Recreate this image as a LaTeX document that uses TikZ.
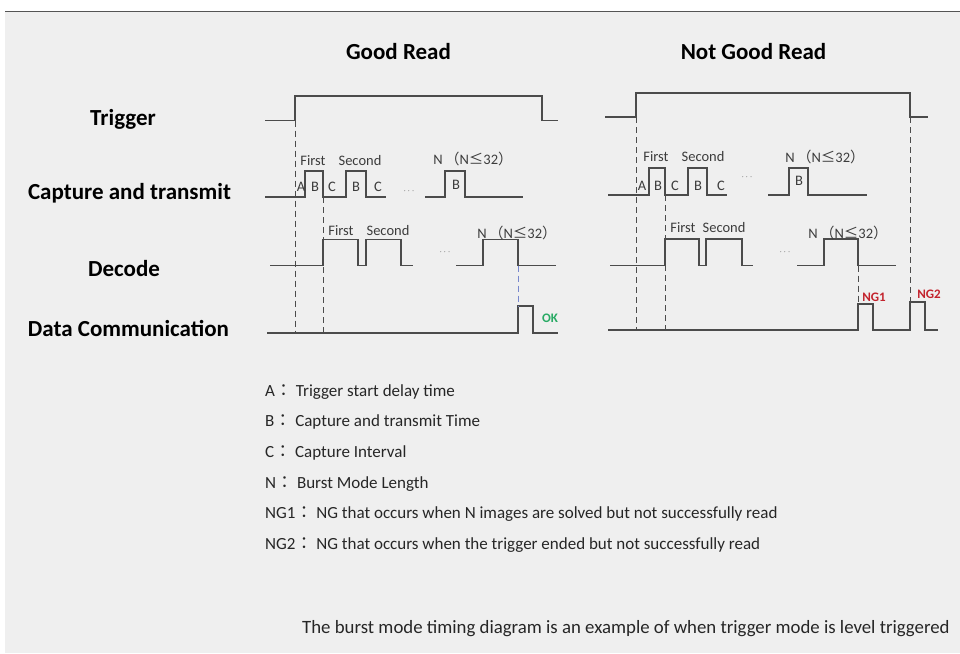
\documentclass[tikz,border=0pt]{standalone}
\usepackage{fontspec}
\setmainfont{Carlito}
\newfontfamily\cjk{Noto Sans CJK TC}
\usepackage{tikz}
\definecolor{pagebg}{RGB}{239,239,239}
\definecolor{rulegray}{RGB}{85,85,85}
\definecolor{wavegray}{RGB}{75,75,75}
\definecolor{textgray}{RGB}{60,60,60}
\definecolor{okgreen}{RGB}{40,170,100}
\definecolor{ngred}{RGB}{195,35,45}
\definecolor{guideblue}{RGB}{120,135,205}
\usetikzlibrary{positioning}
\newcommand{\fw}[1]{{\cjk #1}}
\newcommand{\Nmax}{N\,\fw{（}N\fw{≤}32\fw{）}}

\begin{document}
\begin{tikzpicture}[
    x=1pt, y=-1pt,
    signal/.style={draw=wavegray, line width=1.3pt},
    guide/.style={draw=wavegray, line width=1pt, dash pattern=on 6pt off 4pt},
    rowlabel/.style={font=\fontsize{23}{26}\selectfont\bfseries, text=black, inner sep=0},
    heading/.style={font=\fontsize{23}{26}\selectfont\bfseries, text=black, inner sep=0},
    tag/.style={font=\fontsize{14.5}{16}\selectfont, text=textgray, inner sep=0},
    dots/.style={font=\fontsize{9}{10}\selectfont, text=textgray, inner sep=0},
    result/.style={font=\fontsize{13}{15}\selectfont\bfseries, inner sep=0},
    legend/.style={anchor=west, font=\fontsize{17}{19}\selectfont, text=black!85, inner sep=0}
]
    \useasboundingbox (0,0) rectangle (960,653);
    % Page background and top rule
    \fill[white] (0,0) rectangle (960,653);
    \fill[pagebg] (5,12) rectangle (960,653);
    \draw[rulegray, line width=1.5pt] (5,11.5) -- (960,11.5);

    % Titles
    \node[heading] (good) at (398.5,52) {Good Read};
    \node[heading] (notgood) at (753.5,52) {Not Good Read};

    % Row labels
    \node[rowlabel] (trigL) at (123,119) {Trigger};
    \node[rowlabel] (capL) at (129.5,193) {Capture and transmit};
    \node[rowlabel] (decL) at (124,269) {Decode};
    \node[rowlabel] (dataL) at (128.5,328) {Data Communication};

    % ---------- Good Read ----------
    \coordinate (gTrigUp) at (295,120.5);
    \coordinate (gTrigBase) at (295,333);
    \coordinate (gCapDown) at (323,197);
    \coordinate (gCapBase) at (323,333);
    \coordinate (gDecDown) at (518,265.5);
    \coordinate (gOkUp) at (518,306);

    % Trigger
    \draw[signal] (265,120.5) -- (gTrigUp) -- (295,96) -- (542,96) -- (542,120.5) -- (558,120.5);
    % Capture and transmit
    \draw[signal] (265,197) -- (305,197) -- (305,171) -- (323,171) -- (gCapDown) -- (346,197)
        -- (346,171) -- (366,171) -- (366,197) -- (386,197);
    \draw[signal] (425,197) -- (445,197) -- (445,171) -- (465,171) -- (465,197) -- (523,197);
    % Decode
    \draw[signal] (270,265.5) -- (323,265.5) -- (323,239.5) -- (358,239.5) -- (358,265.5) -- (366,265.5)
        -- (366,239.5) -- (401,239.5) -- (401,265.5) -- (413,265.5);
    \draw[signal] (456,265.5) -- (483,265.5) -- (483,239.5) -- (518,239.5) -- (gDecDown) -- (556,265.5);
    % Data communication
    \draw[signal] (267,333) -- (518,333) -- (gOkUp) -- (533,306) -- (533,333) -- (558,333);

    % Guides
    \draw[guide] (gTrigUp) -- (gTrigBase);
    \draw[guide] (gCapDown) -- (gCapBase);
    \draw[guide, draw=guideblue] (gDecDown) -- (gOkUp);

    % Labels
    \node[tag] (gFirst) at (313,161) {First};
    \node[tag] (gSecond) at (360,161) {Second};
    \node[tag] (gN) at (473,159) {\Nmax};
    \node[tag] (gA) at (301,187) {A};
    \node[tag] (gB1) at (315,187) {B};
    \node[tag] (gC1) at (332,187) {C};
    \node[tag] (gB2) at (356,187) {B};
    \node[tag] (gC2) at (378,187) {C};
    \node[dots] (gDots1) at (409,191) {$\cdots$};
    \node[tag] (gB3) at (456,185) {B};
    \node[tag] (gDFirst) at (341,231) {First};
    \node[tag] (gDSecond) at (388,231) {Second};
    \node[tag] (gDN) at (517,233) {\Nmax};
    \node[dots] (gDots2) at (445,252) {$\cdots$};
    \node[result, text=okgreen] (gOk) at (550,318) {OK};

    % ---------- Not Good Read ----------
    \coordinate (nTrigUp) at (636,117);
    \coordinate (nTrigBase) at (636,330);
    \coordinate (nCapDown) at (665,195);
    \coordinate (nCapBase) at (665,330);
    \coordinate (nTrigDown) at (910,117);
    \coordinate (nNgTwoUp) at (910,302);
    \coordinate (nDecDown) at (858,265.5);
    \coordinate (nNgOneUp) at (858,304);

    % Trigger
    \draw[signal] (605,117) -- (nTrigUp) -- (636,93) -- (910,93) -- (nTrigDown) -- (928,117);
    % Capture and transmit
    \draw[signal] (608,195) -- (649,195) -- (649,168) -- (665,168) -- (nCapDown) -- (688,195)
        -- (688,168) -- (707,168) -- (707,195) -- (727,195);
    \draw[signal] (768,195) -- (789,195) -- (789,168) -- (808,168) -- (808,195) -- (867,195);
    % Decode
    \draw[signal] (610,265.5) -- (665,265.5) -- (665,239) -- (699,239) -- (699,265.5) -- (706,265.5)
        -- (706,239) -- (742,239) -- (742,265.5) -- (753,265.5);
    \draw[signal] (797,265.5) -- (824,265.5) -- (824,239) -- (858,239) -- (nDecDown) -- (896,265.5);
    % Data communication
    \draw[signal] (608,330) -- (858,330) -- (nNgOneUp) -- (873,304) -- (873,330) -- (910,330)
        -- (nNgTwoUp) -- (925,302) -- (925,330) -- (938,330);

    % Guides
    \draw[guide] (nTrigUp) -- (nTrigBase);
    \draw[guide] (nCapDown) -- (nCapBase);
    \draw[guide] (nTrigDown) -- (nNgTwoUp);
    \draw[guide] (nDecDown) -- (nNgOneUp);

    % Labels
    \node[tag] (nFirst) at (656,157) {First};
    \node[tag] (nSecond) at (703,157) {Second};
    \node[tag] (nN) at (825,157) {\Nmax};
    \node[tag] (nA) at (642,186) {A};
    \node[tag] (nB1) at (658,186) {B};
    \node[tag] (nC1) at (675,186) {C};
    \node[tag] (nB2) at (698,186) {B};
    \node[tag] (nC2) at (721,186) {C};
    \node[dots] (nDots1) at (747,177) {$\cdots$};
    \node[tag] (nB3) at (799,181) {B};
    \node[tag] (nDFirst) at (683,228) {First};
    \node[tag] (nDSecond) at (724,228) {Second};
    \node[tag] (nDN) at (848,233) {\Nmax};
    \node[dots] (nDots2) at (785,252) {$\cdots$};
    \node[result, text=ngred] (nNgOne) at (874,297) {NG1};
    \node[result, text=ngred] (nNgTwo) at (929,294) {NG2};

    % Legend
    \node[legend] (legA) at (265,392) {A\fw{：} Trigger start delay time};
    \node[legend] (legB) at (265,422) {B\fw{：} Capture and transmit Time};
    \node[legend] (legC) at (265,453) {C\fw{：} Capture Interval};
    \node[legend] (legN) at (265,484) {N\fw{：} Burst Mode Length};
    \node[legend] (legNgOne) at (265,514) {NG1\fw{：} NG that occurs when N images are solved but not successfully read};
    \node[legend] (legNgTwo) at (265,545) {NG2\fw{：} NG that occurs when the trigger ended but not successfully read};

    % Note
    \node[legend, font=\fontsize{18.8}{22}\selectfont] (note) at (302,629) {The burst mode timing diagram is an example of when trigger mode is level triggered};
\end{tikzpicture}
\end{document}
